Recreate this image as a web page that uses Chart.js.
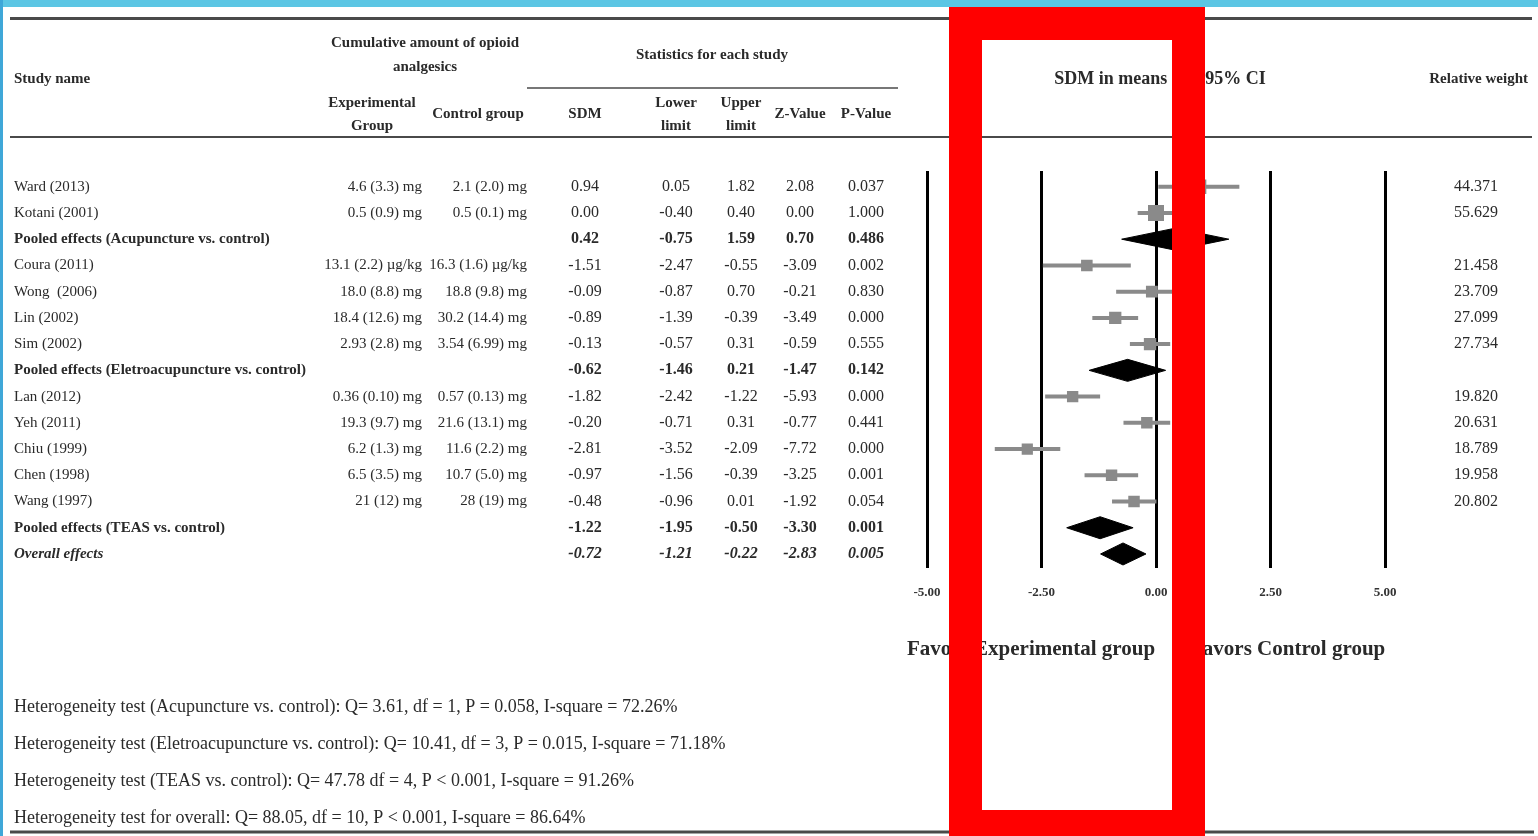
<!DOCTYPE html>
<html>
<head>
<meta charset="utf-8">
<script src="https://cdn.jsdelivr.net/npm/chart.js@4.4.1/dist/chart.umd.min.js"></script>
<style>
  html, body { margin: 0; padding: 0; background: #fff; overflow: hidden; }
  #wrap { position: relative; width: 1538px; height: 836px; }
  #topband { position: absolute; left: 0; top: 0; width: 1538px; height: 7px; background: #5cc6e4; }
  #leftband { position: absolute; left: 0; top: 0; width: 3px; height: 836px; background: #3fa7d8; }
  #frame { position: absolute; left: 949px; top: 7px; width: 256px; height: 836px;
           box-sizing: border-box; border: 33px solid #ff0000; }
</style>
</head>
<body>
<div id="wrap">
  <canvas id="forest" width="1538" height="836"></canvas>
  <div id="topband"></div>
  <div id="leftband"></div>
  <div id="frame"></div>
</div>
<script>
// --- data ---
const studyNames = ['Ward (2013)', 'Kotani (2001)', 'Pooled effects (Acupuncture vs. control)',
  'Coura (2011)', 'Wong  (2006)', 'Lin (2002)', 'Sim (2002)', 'Pooled effects (Eletroacupuncture vs. control)',
  'Lan (2012)', 'Yeh (2011)', 'Chiu (1999)', 'Chen (1998)', 'Wang (1997)',
  'Pooled effects (TEAS vs. control)', 'Overall effects'];
const rowKind = ['study', 'study', 'pooled', 'study', 'study', 'study', 'study', 'pooled',
  'study', 'study', 'study', 'study', 'study', 'pooled', 'overall'];
const expGroup = ['4.6 (3.3) mg', '0.5 (0.9) mg', '', '13.1 (2.2) µg/kg', '18.0 (8.8) mg', '18.4 (12.6) mg',
  '2.93 (2.8) mg', '', '0.36 (0.10) mg', '19.3 (9.7) mg', '6.2 (1.3) mg', '6.5 (3.5) mg', '21 (12) mg', '', ''];
const ctrlGroup = ['2.1 (2.0) mg', '0.5 (0.1) mg', '', '16.3 (1.6) µg/kg', '18.8 (9.8) mg', '30.2 (14.4) mg',
  '3.54 (6.99) mg', '', '0.57 (0.13) mg', '21.6 (13.1) mg', '11.6 (2.2) mg', '10.7 (5.0) mg', '28 (19) mg', '', ''];
const sdm   = [0.94, 0.00, 0.42, -1.51, -0.09, -0.89, -0.13, -0.62, -1.82, -0.20, -2.81, -0.97, -0.48, -1.22, -0.72];
const lower = [0.05, -0.40, -0.75, -2.47, -0.87, -1.39, -0.57, -1.46, -2.42, -0.71, -3.52, -1.56, -0.96, -1.95, -1.21];
const upper = [1.82, 0.40, 1.59, -0.55, 0.70, -0.39, 0.31, 0.21, -1.22, 0.31, -2.09, -0.39, 0.01, -0.50, -0.22];
const zValue = [2.08, 0.00, 0.70, -3.09, -0.21, -3.49, -0.59, -1.47, -5.93, -0.77, -7.72, -3.25, -1.92, -3.30, -2.83];
const pValue = ['0.037', '1.000', '0.486', '0.002', '0.830', '0.000', '0.555', '0.142', '0.000', '0.441',
  '0.000', '0.001', '0.054', '0.001', '0.005'];
const relWeight = ['44.371', '55.629', '', '21.458', '23.709', '27.099', '27.734', '', '19.820', '20.631',
  '18.789', '19.958', '20.802', '', ''];
const xTicks = [-5, -2.5, 0, 2.5, 5];
const heterogeneity = [
  'Heterogeneity test (Acupuncture vs. control): Q= 3.61, df = 1, P = 0.058, I-square = 72.26%',
  'Heterogeneity test (Eletroacupuncture vs. control): Q= 10.41, df = 3, P = 0.015, I-square = 71.18%',
  'Heterogeneity test (TEAS vs. control): Q= 47.78 df = 4, P < 0.001, I-square = 91.26%',
  'Heterogeneity test for overall: Q= 88.05, df = 10, P < 0.001, I-square = 86.64%'
];

const SERIF = '"Liberation Serif", "DejaVu Serif", serif';
const GRAY = '#8a8a8a';
const TEXT = '#2a2a2a';

// build datasets
const datasets = [];
const squares = [];
const squareSizes = [];
studyNames.forEach((name, i) => {
  if (rowKind[i] === 'study') {
    datasets.push({
      data: [{ x: lower[i], y: i }, { x: upper[i], y: i }],
      showLine: true, borderColor: GRAY, borderWidth: 4, pointRadius: 0, fill: false
    });
    squares.push({ x: sdm[i], y: i });
    squareSizes.push(6.2 + parseFloat(relWeight[i]) * 0.092);
  } else {
    const h = 0.42;
    datasets.push({
      data: [{ x: lower[i], y: i }, { x: sdm[i], y: i - h }, { x: upper[i], y: i },
             { x: sdm[i], y: i + h }, { x: lower[i], y: i }],
      showLine: true, borderColor: '#000', borderWidth: 1, backgroundColor: '#000',
      pointRadius: 0, fill: 'shape', tension: 0
    });
  }
});
datasets.push({
  data: squares, pointStyle: 'rect', pointRadius: squareSizes, backgroundColor: GRAY,
  borderColor: GRAY, borderWidth: 0, showLine: false
});

// table text drawn against the chart's y scale
const tablePlugin = {
  id: 'tableText',
  afterDraw(chart) {
    const ctx = chart.ctx;
    const ys = chart.scales.y;
    ctx.save();
    ctx.fillStyle = TEXT;
    ctx.strokeStyle = '#4a4a4a';
    ctx.textBaseline = 'middle';

    // rules
    ctx.lineWidth = 3;
    ctx.beginPath(); ctx.moveTo(10, 18.5); ctx.lineTo(1532, 18.5); ctx.stroke();
    ctx.lineWidth = 2;
    ctx.beginPath(); ctx.moveTo(10, 137); ctx.lineTo(1532, 137); ctx.stroke();
    ctx.lineWidth = 1.5;
    ctx.beginPath(); ctx.moveTo(527, 88); ctx.lineTo(898, 88); ctx.stroke();
    ctx.lineWidth = 3;
    ctx.beginPath(); ctx.moveTo(10, 832); ctx.lineTo(1534, 832); ctx.stroke();

    // headers
    ctx.font = 'bold 15px ' + SERIF;
    ctx.textAlign = 'left';
    ctx.fillText('Study name', 14, 79);
    ctx.textAlign = 'center';
    ctx.fillText('Cumulative amount of opioid', 425, 43);
    ctx.fillText('analgesics', 425, 67);
    ctx.fillText('Experimental', 372, 103);
    ctx.fillText('Group', 372, 126);
    ctx.fillText('Control group', 478, 114);
    ctx.fillText('Statistics for each study', 712, 55);
    ctx.fillText('SDM', 585, 114);
    ctx.fillText('Lower', 676, 103);
    ctx.fillText('limit', 676, 126);
    ctx.fillText('Upper', 741, 103);
    ctx.fillText('limit', 741, 126);
    ctx.fillText('Z-Value', 800, 114);
    ctx.fillText('P-Value', 866, 114);
    ctx.font = 'bold 18px ' + SERIF;
    ctx.fillText('SDM in means and 95% CI', 1160, 79);
    ctx.font = 'bold 15px ' + SERIF;
    ctx.textAlign = 'right';
    ctx.fillText('Relative weight', 1528, 79);

    // rows
    studyNames.forEach((name, i) => {
      const y = ys.getPixelForValue(i);
      const kind = rowKind[i];
      const style = kind === 'study' ? '' : (kind === 'overall' ? 'italic bold ' : 'bold ');
      ctx.font = style + '15px ' + SERIF;
      ctx.textAlign = 'left';
      ctx.fillText(name, 14, y);
      ctx.textAlign = 'right';
      ctx.fillText(expGroup[i], 422, y);
      ctx.fillText(ctrlGroup[i], 527, y);
      ctx.font = style + '16px ' + SERIF;
      ctx.textAlign = 'center';
      ctx.fillText(sdm[i].toFixed(2), 585, y);
      ctx.fillText(lower[i].toFixed(2), 676, y);
      ctx.fillText(upper[i].toFixed(2), 741, y);
      ctx.fillText(zValue[i].toFixed(2), 800, y);
      ctx.fillText(pValue[i], 866, y);
      ctx.font = '16px ' + SERIF;
      ctx.textAlign = 'right';
      ctx.fillText(relWeight[i], 1498, y);
    });

    // favours labels
    ctx.font = 'bold 21px ' + SERIF;
    ctx.textAlign = 'left';
    ctx.fillText('Favors Experimental group', 907, 650);
    ctx.fillText('Favors Control group', 1190, 650);

    // heterogeneity notes
    ctx.font = '18px ' + SERIF;
    heterogeneity.forEach((t, k) => ctx.fillText(t, 14, 707 + k * 37));
    ctx.restore();
  }
};

new Chart(document.getElementById('forest'), {
  type: 'scatter',
  data: { datasets },
  options: {
    responsive: false,
    animation: false,
    layout: { padding: { left: 927, right: 153, top: 171, bottom: 220 } },
    plugins: { legend: { display: false }, tooltip: { enabled: false } },
    scales: {
      x: {
        type: 'linear', min: -5, max: 5,
        afterBuildTicks: (axis) => { axis.ticks = xTicks.map(v => ({ value: v })); },
        grid: { color: '#000', lineWidth: 3, drawTicks: false },
        border: { display: false },
        ticks: {
          padding: 16, color: '#333',
          font: { family: SERIF, size: 13, weight: 'bold' },
          callback: (v) => Number(v).toFixed(2)
        }
      },
      y: {
        type: 'linear', reverse: true, min: -0.6, max: 14.55, display: false
      }
    }
  },
  plugins: [tablePlugin]
});
</script>
</body>
</html>
